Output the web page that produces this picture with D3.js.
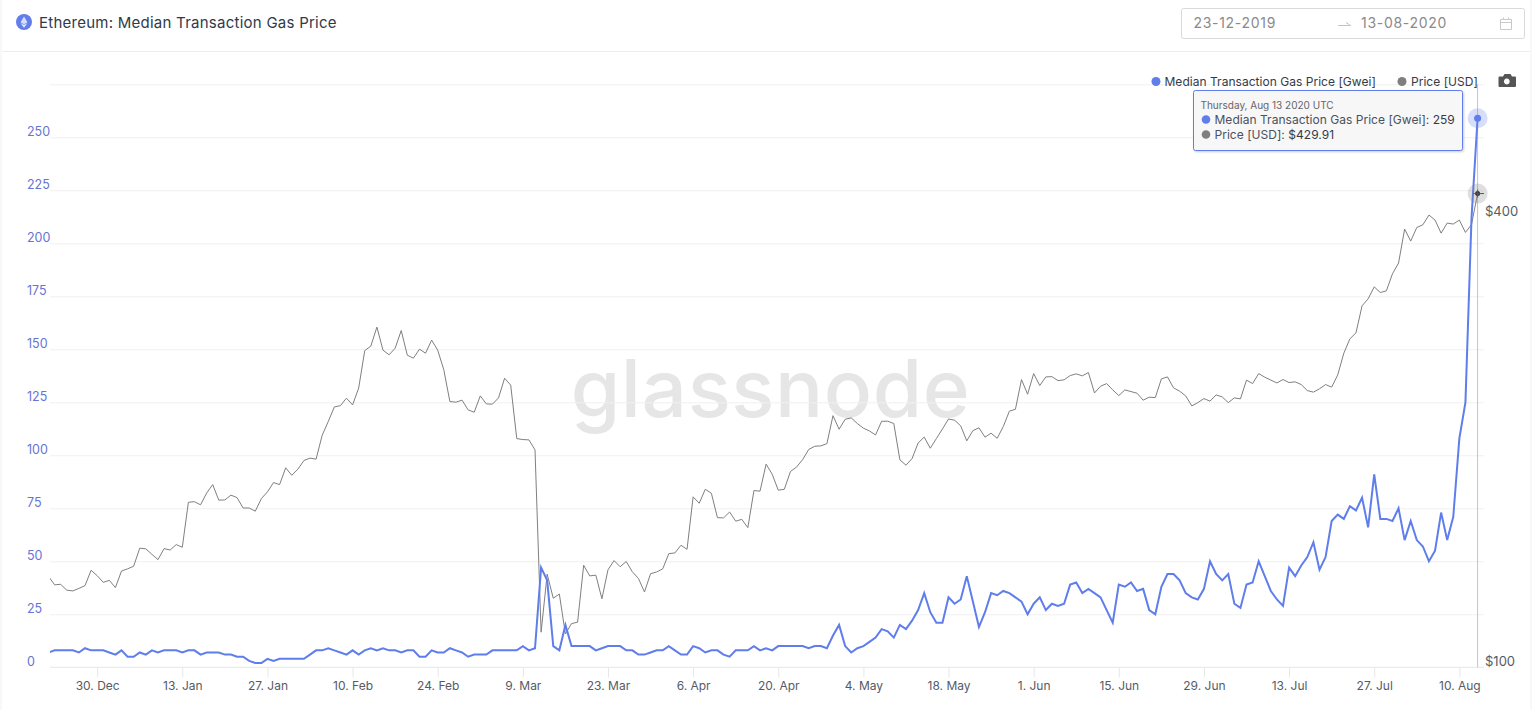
<!DOCTYPE html>
<html>
<head>
<meta charset="utf-8">
<title>Ethereum: Median Transaction Gas Price</title>
<script src="https://cdn.jsdelivr.net/npm/d3@7"></script>
<style>
    html, body { margin: 0; padding: 0; background: #fff; overflow: hidden; }
    text { font-family: Inter, "Noto Sans", sans-serif; }
    #chart .domain { display: none; }
</style>
</head>
<body>
<div id="chart"></div>
<script>
// daily values, first one is 22 Dec 2019, last one 13 Aug 2020
const firstDay = "2019-12-22";

const gasDec = [7, 8, 8, 8, 8, 7, 9, 8, 8, 8];
const gasJan = [7, 6, 8, 5, 5, 7, 6, 8, 7, 8, 8, 8, 7, 8, 8, 6, 7, 7, 7, 6, 6, 5, 5, 3, 2, 2, 4, 3, 4, 4, 4];
const gasFeb = [4, 4, 6, 8, 8, 9, 8, 7, 6, 8, 6, 8, 9, 8, 9, 8, 8, 7, 8, 8, 5, 5, 8, 7, 7, 9, 8, 7, 5];
const gasMar = [6, 6, 6, 8, 8, 8, 8, 8, 10, 8, 9, 47, 41, 10, 8, 20, 10, 10, 10, 10, 8, 9, 10, 10, 10, 8, 8, 6, 6, 7, 8];
const gasApr = [8, 10, 8, 6, 6, 10, 9, 7, 8, 8, 6, 5, 8, 8, 8, 10, 8, 9, 8, 10, 10, 10, 10, 10, 9, 10, 10, 9, 15, 20];
const gasMay = [10, 7, 9, 10, 12, 14, 18, 17, 14, 20, 18, 22, 27, 35, 26, 21, 21, 33, 30, 32, 43, 31, 19, 26, 35, 34, 36, 35, 33, 31, 25];
const gasJun = [30, 33, 27, 30, 29, 30, 39, 40, 35, 37, 35, 33, 27, 21, 39, 38, 40, 36, 37, 27, 25, 38, 44, 44, 41, 35, 33, 32, 37, 50];
const gasJul = [44, 41, 44, 30, 28, 39, 40, 50, 43, 36, 32, 29, 47, 43, 48, 52, 59, 46, 52, 69, 72, 70, 76, 74, 80, 66, 91, 70, 70, 69, 75];
const gasAug = [60, 69, 60, 57, 50, 55, 73, 60, 71, 108, 125, 212, 259];

const usdDec = [132.3, 128.9, 129.1, 126.8, 126.5, 127.5, 128.6, 134.8, 132.6, 129.9];
const usdJan = [130.7, 127.8, 134.5, 135.4, 136.5, 144.3, 144.0, 141.6, 139.3, 144.1, 143.5, 145.9, 144.7, 166.2, 166.5, 164.9, 171.0, 175.5, 167.3, 167.4, 169.9, 168.6, 163.3, 163.3, 161.7, 168.1, 171.6, 176.6, 175.5, 184.8, 180.6];
const usdFeb = [184.0, 189.0, 190.4, 189.8, 204.3, 213.1, 222.9, 223.8, 229.0, 224.3, 236.2, 265.1, 268.8, 285.0, 265.5, 261.7, 267.1, 282.0, 261.4, 259.0, 266.3, 263.0, 273.8, 265.5, 249.9, 226.6, 226.2, 227.6, 220.9];
const usdMar = [219.3, 230.6, 225.0, 224.8, 229.2, 243.5, 238.4, 202.2, 201.6, 201.4, 195.3, 111.4, 133.2, 123.7, 125.3, 110.8, 114.4, 114.9, 136.9, 132.5, 132.8, 123.5, 135.0, 138.9, 136.3, 138.5, 134.2, 131.5, 126.1, 133.4, 134.1];
const usdApr = [135.4, 141.9, 142.2, 145.6, 143.8, 169.0, 165.7, 173.0, 170.9, 158.5, 158.4, 161.3, 156.8, 157.7, 153.7, 172.3, 172.0, 186.9, 181.2, 172.5, 173.0, 182.7, 185.2, 189.5, 195.5, 197.5, 197.7, 199.1, 217.0, 208.1];
const usdMay = [214.6, 215.5, 211.8, 208.8, 207.0, 204.5, 213.3, 213.3, 211.8, 189.4, 186.3, 190.1, 199.5, 203.1, 196.3, 202.2, 208.3, 214.8, 214.0, 210.3, 200.8, 207.2, 209.0, 203.1, 205.6, 202.4, 209.8, 220.0, 221.3, 242.5, 231.8];
const usdJun = [247.0, 238.1, 244.5, 244.7, 241.7, 242.3, 245.5, 246.8, 245.3, 247.8, 232.7, 237.6, 239.5, 234.9, 230.8, 234.9, 233.7, 232.5, 227.6, 229.7, 229.4, 243.0, 244.5, 236.4, 234.0, 230.6, 223.6, 225.9, 228.7, 226.9];
const usdJul = [231.3, 229.9, 225.9, 229.2, 228.5, 242.1, 239.5, 247.0, 244.3, 242.1, 240.0, 242.5, 240.3, 240.8, 238.8, 234.4, 233.3, 235.7, 238.8, 236.9, 246.0, 263.0, 274.9, 280.0, 304.3, 310.9, 322.6, 317.0, 318.7, 335.8, 347.1];
const usdAug = [385.4, 371.4, 387.3, 390.5, 402.4, 396.2, 380.6, 392.6, 391.4, 396.2, 381.4, 390.8, 429.91];

const dateTicks = ["2019-12-30", "2020-01-13", "2020-01-27", "2020-02-10", "2020-02-24", "2020-03-09", "2020-03-23", "2020-04-06", "2020-04-20", "2020-05-04", "2020-05-18", "2020-06-01", "2020-06-15", "2020-06-29", "2020-07-13", "2020-07-27", "2020-08-10"];
const gasGrid = [25, 50, 75, 100, 125, 150, 175, 200, 225, 250, 275];
const gasLabels = [0, 25, 50, 75, 100, 125, 150, 175, 200, 225, 250];
const usdLabels = [100, 400];

const gasValues = [].concat(gasDec, gasJan, gasFeb, gasMar, gasApr, gasMay, gasJun, gasJul, gasAug);
const usdValues = [].concat(usdDec, usdJan, usdFeb, usdMar, usdApr, usdMay, usdJun, usdJul, usdAug);

const gasColor = "#5f7deb";
const usdColor = "#7f7f7f";
const width = 1532, height = 710;
const plot = { left: 50, right: 1484, top: 84.3, bottom: 667.3 };

let parseDay = d3.utcParse("%Y-%m-%d");
let days = gasValues.map((d, i) => d3.utcDay.offset(parseDay(firstDay), i));
let lastDay = days[days.length - 1];

let x = d3.scaleUtc()
    .domain([parseDay("2019-12-23"), lastDay])
    .range([54.6, 1477.6]);
let yGas = d3.scaleLinear().domain([0, 275]).range([plot.bottom, plot.top]);
let yUsd = d3.scaleLog().domain([100, 400]).range([plot.bottom, 217]);

let svg = d3.select("#chart").append("svg")
    .attr("width", width)
    .attr("height", height)
    .style("display", "block");

svg.append("rect").attr("width", width).attr("height", height).attr("fill", "#fff");
svg.append("rect").attr("width", 2).attr("height", height).attr("fill", "#f8f8f8");
svg.append("rect").attr("x", width - 2).attr("width", 2).attr("height", height).attr("fill", "#f8f8f8");

// HEADER
svg.append("line")
    .attr("x1", 2).attr("x2", width - 2).attr("y1", 51.5).attr("y2", 51.5)
    .attr("stroke", "#eeeeee");

let icon = svg.append("g").attr("transform", "translate(24,22)");
icon.append("circle").attr("r", 8).attr("fill", "#627eea");
icon.append("path").attr("d", "M0,-5.5L3.4,0.2L0,2.2L-3.4,0.2Z").attr("fill", "#fff").attr("opacity", 0.75);
icon.append("path").attr("d", "M0,3.1L3.4,1.1L0,5.8L-3.4,1.1Z").attr("fill", "#fff").attr("opacity", 0.9);

svg.append("text")
    .attr("x", 39).attr("y", 28)
    .attr("font-size", 15)
    .attr("letter-spacing", 0.25)
    .attr("fill", "#2f3a4a")
    .text("Ethereum: Median Transaction Gas Price");

// date picker
svg.append("rect")
    .attr("x", 1181.5).attr("y", 8.5).attr("width", 343).attr("height", 30).attr("rx", 2)
    .attr("fill", "#fff").attr("stroke", "#d9d9d9");
svg.selectAll(".date-input")
    .data([{ x: 1193.5, t: "23-12-2019" }, { x: 1361, t: "13-08-2020" }])
    .enter().append("text")
    .attr("class", "date-input")
    .attr("x", d => d.x).attr("y", 28)
    .attr("font-size", 14)
    .attr("letter-spacing", 0.7)
    .attr("fill", "#8a8a8a")
    .text(d => d.t);
svg.append("path")
    .attr("d", "M1338,25.5H1350.5L1346,22.5")
    .attr("fill", "none").attr("stroke", "#c4c4c4");
svg.append("path")
    .attr("d", "M1500.5,19.5h11v10h-11zM1500.5,22.5h11M1503.5,17.5v2M1508.5,17.5v2")
    .attr("fill", "none").attr("stroke", "#c9c9c9");

// WATERMARK
svg.append("text")
    .attr("x", 770.5).attr("y", 417)
    .attr("text-anchor", "middle")
    .attr("font-size", 80)
    .attr("font-weight", 500)
    .attr("letter-spacing", 0.6)
    .attr("fill", "#e6e6e6")
    .text("glassnode");

// GRID + AXES
svg.append("g")
    .attr("class", "grid")
    .attr("transform", `translate(${plot.left},0)`)
    .call(d3.axisRight(yGas).tickValues(gasGrid).tickSize(plot.right - plot.left).tickFormat(""))
    .selectAll("line").attr("stroke", "#f0f0f0");

let xAxis = svg.append("g")
    .attr("transform", `translate(0,${plot.bottom})`)
    .call(d3.axisBottom(x)
        .tickValues(dateTicks.map(parseDay))
        .tickSize(10)
        .tickPadding(4)
        .tickFormat(d3.utcFormat("%-d. %b")));
xAxis.selectAll("line").attr("stroke", "#e6e6e6");
xAxis.selectAll("text").attr("font-size", 12).attr("fill", "#555b66");

svg.append("line")
    .attr("x1", plot.left).attr("x2", plot.right).attr("y1", plot.bottom).attr("y2", plot.bottom)
    .attr("stroke", "#e6e6e6");

let gasAxis = svg.append("g")
    .attr("transform", "translate(27,0)")
    .call(d3.axisRight(yGas).tickValues(gasLabels).tickSize(0).tickPadding(0));
gasAxis.selectAll("text").attr("font-size", 12.5).attr("fill", "#6674d4").attr("dy", -2);

let usdAxis = svg.append("g")
    .attr("transform", "translate(1485,0)")
    .call(d3.axisRight(yUsd).tickValues(usdLabels).tickSize(0).tickPadding(0).tickFormat(d => "$" + d));
usdAxis.selectAll("text").attr("font-size", 13).attr("fill", "#555b66").attr("dy", -2);

// LINES
svg.append("clipPath").attr("id", "plot-clip")
    .append("rect")
    .attr("x", plot.left).attr("y", 0)
    .attr("width", plot.right - plot.left).attr("height", plot.bottom);

let usdLine = d3.line().x((d, i) => x(days[i])).y(d => yUsd(d));
let gasLine = d3.line().x((d, i) => x(days[i])).y(d => yGas(d));

// crosshair on the last day
svg.append("line")
    .attr("x1", x(lastDay)).attr("x2", x(lastDay))
    .attr("y1", plot.top).attr("y2", plot.bottom)
    .attr("stroke", "#c4c4c4");

svg.append("path")
    .datum(usdValues)
    .attr("clip-path", "url(#plot-clip)")
    .attr("fill", "none")
    .attr("stroke", usdColor)
    .attr("stroke-width", 1)
    .attr("d", usdLine);

svg.append("path")
    .datum(gasValues)
    .attr("clip-path", "url(#plot-clip)")
    .attr("fill", "none")
    .attr("stroke", gasColor)
    .attr("stroke-width", 2)
    .attr("d", gasLine);

// hover markers
let lastGas = gasValues[gasValues.length - 1];
let lastUsd = usdValues[usdValues.length - 1];

svg.append("circle")
    .attr("cx", x(lastDay)).attr("cy", yGas(lastGas)).attr("r", 10)
    .attr("fill", gasColor).attr("opacity", 0.25);
svg.append("circle")
    .attr("cx", x(lastDay)).attr("cy", yGas(lastGas)).attr("r", 3.5)
    .attr("fill", gasColor);
svg.append("circle")
    .attr("cx", x(lastDay)).attr("cy", yUsd(lastUsd)).attr("r", 10)
    .attr("fill", usdColor).attr("opacity", 0.25);
svg.append("circle")
    .attr("cx", x(lastDay)).attr("cy", yUsd(lastUsd)).attr("r", 2.5)
    .attr("fill", "#333");
svg.append("path")
    .attr("d", `M${x(lastDay) - 4},${yUsd(lastUsd)}H${plot.right}M${x(lastDay)},${yUsd(lastUsd) - 4}v8`)
    .attr("stroke", "#555").attr("fill", "none");

// LEGEND
let legend = svg.append("g").attr("class", "legend");
legend.selectAll("circle")
    .data([{ x: 1156, c: gasColor }, { x: 1402, c: usdColor }])
    .enter().append("circle")
    .attr("cx", d => d.x).attr("cy", 81.5).attr("r", 4.5)
    .attr("fill", d => d.c);
legend.selectAll("text")
    .data([{ x: 1164.5, t: "Median Transaction Gas Price [Gwei]" }, { x: 1411, t: "Price [USD]" }])
    .enter().append("text")
    .attr("x", d => d.x).attr("y", 86)
    .attr("font-size", 12)
    .attr("letter-spacing", 0.03)
    .attr("fill", "#333b48")
    .text(d => d.t);

// camera icon
svg.append("path")
    .attr("fill-rule", "evenodd")
    .attr("fill", "#555")
    .attr("d", "M1499,76.5h4l1.5,-2.5h6l1.5,2.5h3a1,1 0 0 1 1,1v8.5a1,1 0 0 1 -1,1h-15.5a1,1 0 0 1 -1,-1v-8.5a1,1 0 0 1 1,-1zM1506.8,78.6a2.9,2.9 0 1 0 0.01,0z");

// TOOLTIP
let shadow = svg.append("defs").append("filter").attr("id", "tip-shadow");
shadow.append("feDropShadow")
    .attr("dx", 1).attr("dy", 1).attr("stdDeviation", 1).attr("flood-opacity", 0.2);

let tip = svg.append("g").attr("transform", "translate(1193,90)");
tip.append("rect")
    .attr("x", 0.5).attr("y", 0.5).attr("width", 269).attr("height", 60).attr("rx", 2)
    .attr("fill", "#f7f7f7").attr("stroke", gasColor)
    .attr("filter", "url(#tip-shadow)");
tip.append("text")
    .attr("x", 7.5).attr("y", 19)
    .attr("font-size", 10)
    .attr("fill", "#666")
    .text("Thursday, Aug 13 2020 UTC");

let tipRows = tip.selectAll(".tip-row")
    .data([
        { y: 29.5, c: gasColor, label: "Median Transaction Gas Price [Gwei]: ", value: String(lastGas) },
        { y: 44.5, c: usdColor, label: "Price [USD]: ", value: "$" + lastUsd }
    ])
    .enter().append("g")
    .attr("class", "tip-row")
    .attr("transform", d => `translate(0,${d.y})`);
tipRows.append("circle")
    .attr("cx", 13).attr("r", 4.3)
    .attr("fill", d => d.c);
let rowText = tipRows.append("text")
    .attr("x", 21.5).attr("y", 4.3)
    .attr("font-size", 12)
    .attr("letter-spacing", 0.03)
    .attr("fill", "#4a5160");
rowText.append("tspan").text(d => d.label);
rowText.append("tspan").attr("fill", "#333b48").text(d => d.value);
</script>
</body>
</html>
